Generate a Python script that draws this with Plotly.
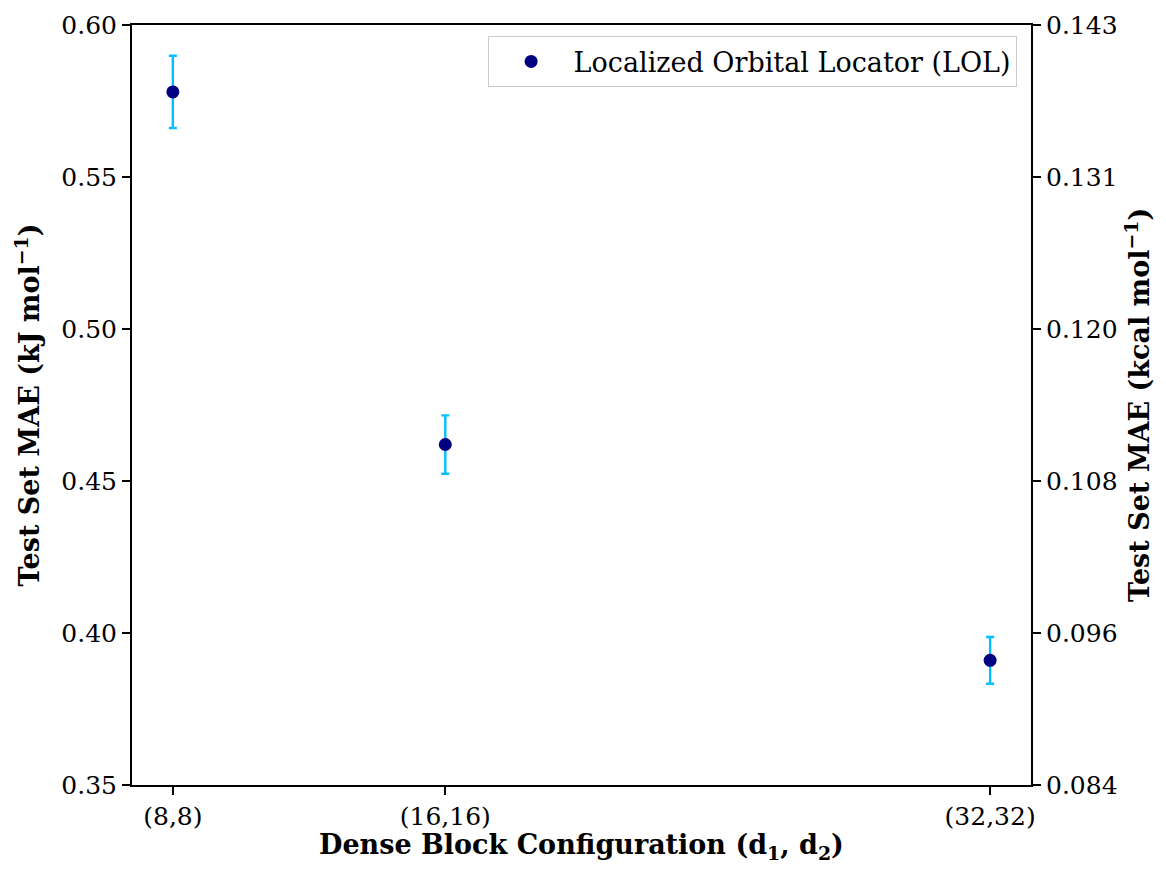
import plotly.graph_objects as go

# Data
configs = [8, 16, 32]
config_labels = ["(8,8)", "(16,16)", "(32,32)"]
mae_kj = [0.578, 0.462, 0.391]
mae_err = [0.0119, 0.0096, 0.0077]
kj_per_kcal = 4.184
y_ticks_kj = [0.35, 0.40, 0.45, 0.50, 0.55, 0.60]

FONT = "DejaVu Serif"
TICK = 25
LABEL = 27

fig = go.Figure()
fig.add_trace(go.Scatter(
    x=configs, y=mae_kj, mode="markers",
    name="Localized Orbital Locator (LOL)",
    marker=dict(color="#000080", size=13),
    error_y=dict(type="data", array=mae_err, color="#00BFFF", thickness=2.4, width=4),
))
# invisible trace binding the secondary (kcal) axis
fig.add_trace(go.Scatter(
    x=configs, y=[v / kj_per_kcal for v in mae_kj], mode="markers",
    yaxis="y2", marker=dict(opacity=0), showlegend=False, hoverinfo="skip",
))

axis_common = dict(
    showgrid=False, zeroline=False, automargin=False,
    showline=True, linecolor="black", linewidth=2,
    ticks="outside", ticklen=8, tickwidth=1.6, tickcolor="black",
    tickfont=dict(family=FONT, size=TICK),
)

fig.update_layout(
    width=1150, height=855,
    paper_bgcolor="white", plot_bgcolor="white",
    margin=dict(l=124, r=127, t=17, b=78),
    font=dict(family=FONT, size=LABEL, color="black"),
    showlegend=True,
    legend=dict(
        x=0.984, y=0.985, xanchor="right", yanchor="top",
        bgcolor="white", bordercolor="#cccccc", borderwidth=1,
        font=dict(family=FONT, size=LABEL),
        itemwidth=75,
    ),
    xaxis=dict(
        range=[6.8, 33.2], tickvals=configs, ticktext=config_labels,
        mirror=True,
        **axis_common,
    ),
    yaxis=dict(
        range=[0.35, 0.60], tickvals=y_ticks_kj, tickformat=".2f",
        title=dict(text="<b>Test Set MAE (kJ mol<sup>−1</sup>)</b>",
                   font=dict(family=FONT, size=LABEL), standoff=14),
        **axis_common,
    ),
    yaxis2=dict(
        overlaying="y", side="right",
        range=[0.35 / kj_per_kcal, 0.60 / kj_per_kcal],
        tickvals=[v / kj_per_kcal for v in y_ticks_kj], tickformat=".3f",
        **axis_common,
    ),
    annotations=[
        dict(text="<b>Dense Block Configuration (d<sub>1</sub>, d<sub>2</sub>)</b>",
             xref="paper", yref="paper", x=0.5, y=-0.081,
             xanchor="center", yanchor="middle", showarrow=False,
             font=dict(family=FONT, size=LABEL)),
        dict(text="<b>Test Set MAE (kcal mol<sup>−1</sup>)</b>",
             xref="paper", yref="paper", x=1.118, y=0.5, textangle=-90,
             xanchor="center", yanchor="middle", showarrow=False,
             font=dict(family=FONT, size=LABEL)),
    ],
)

fig.write_html("out.html")
